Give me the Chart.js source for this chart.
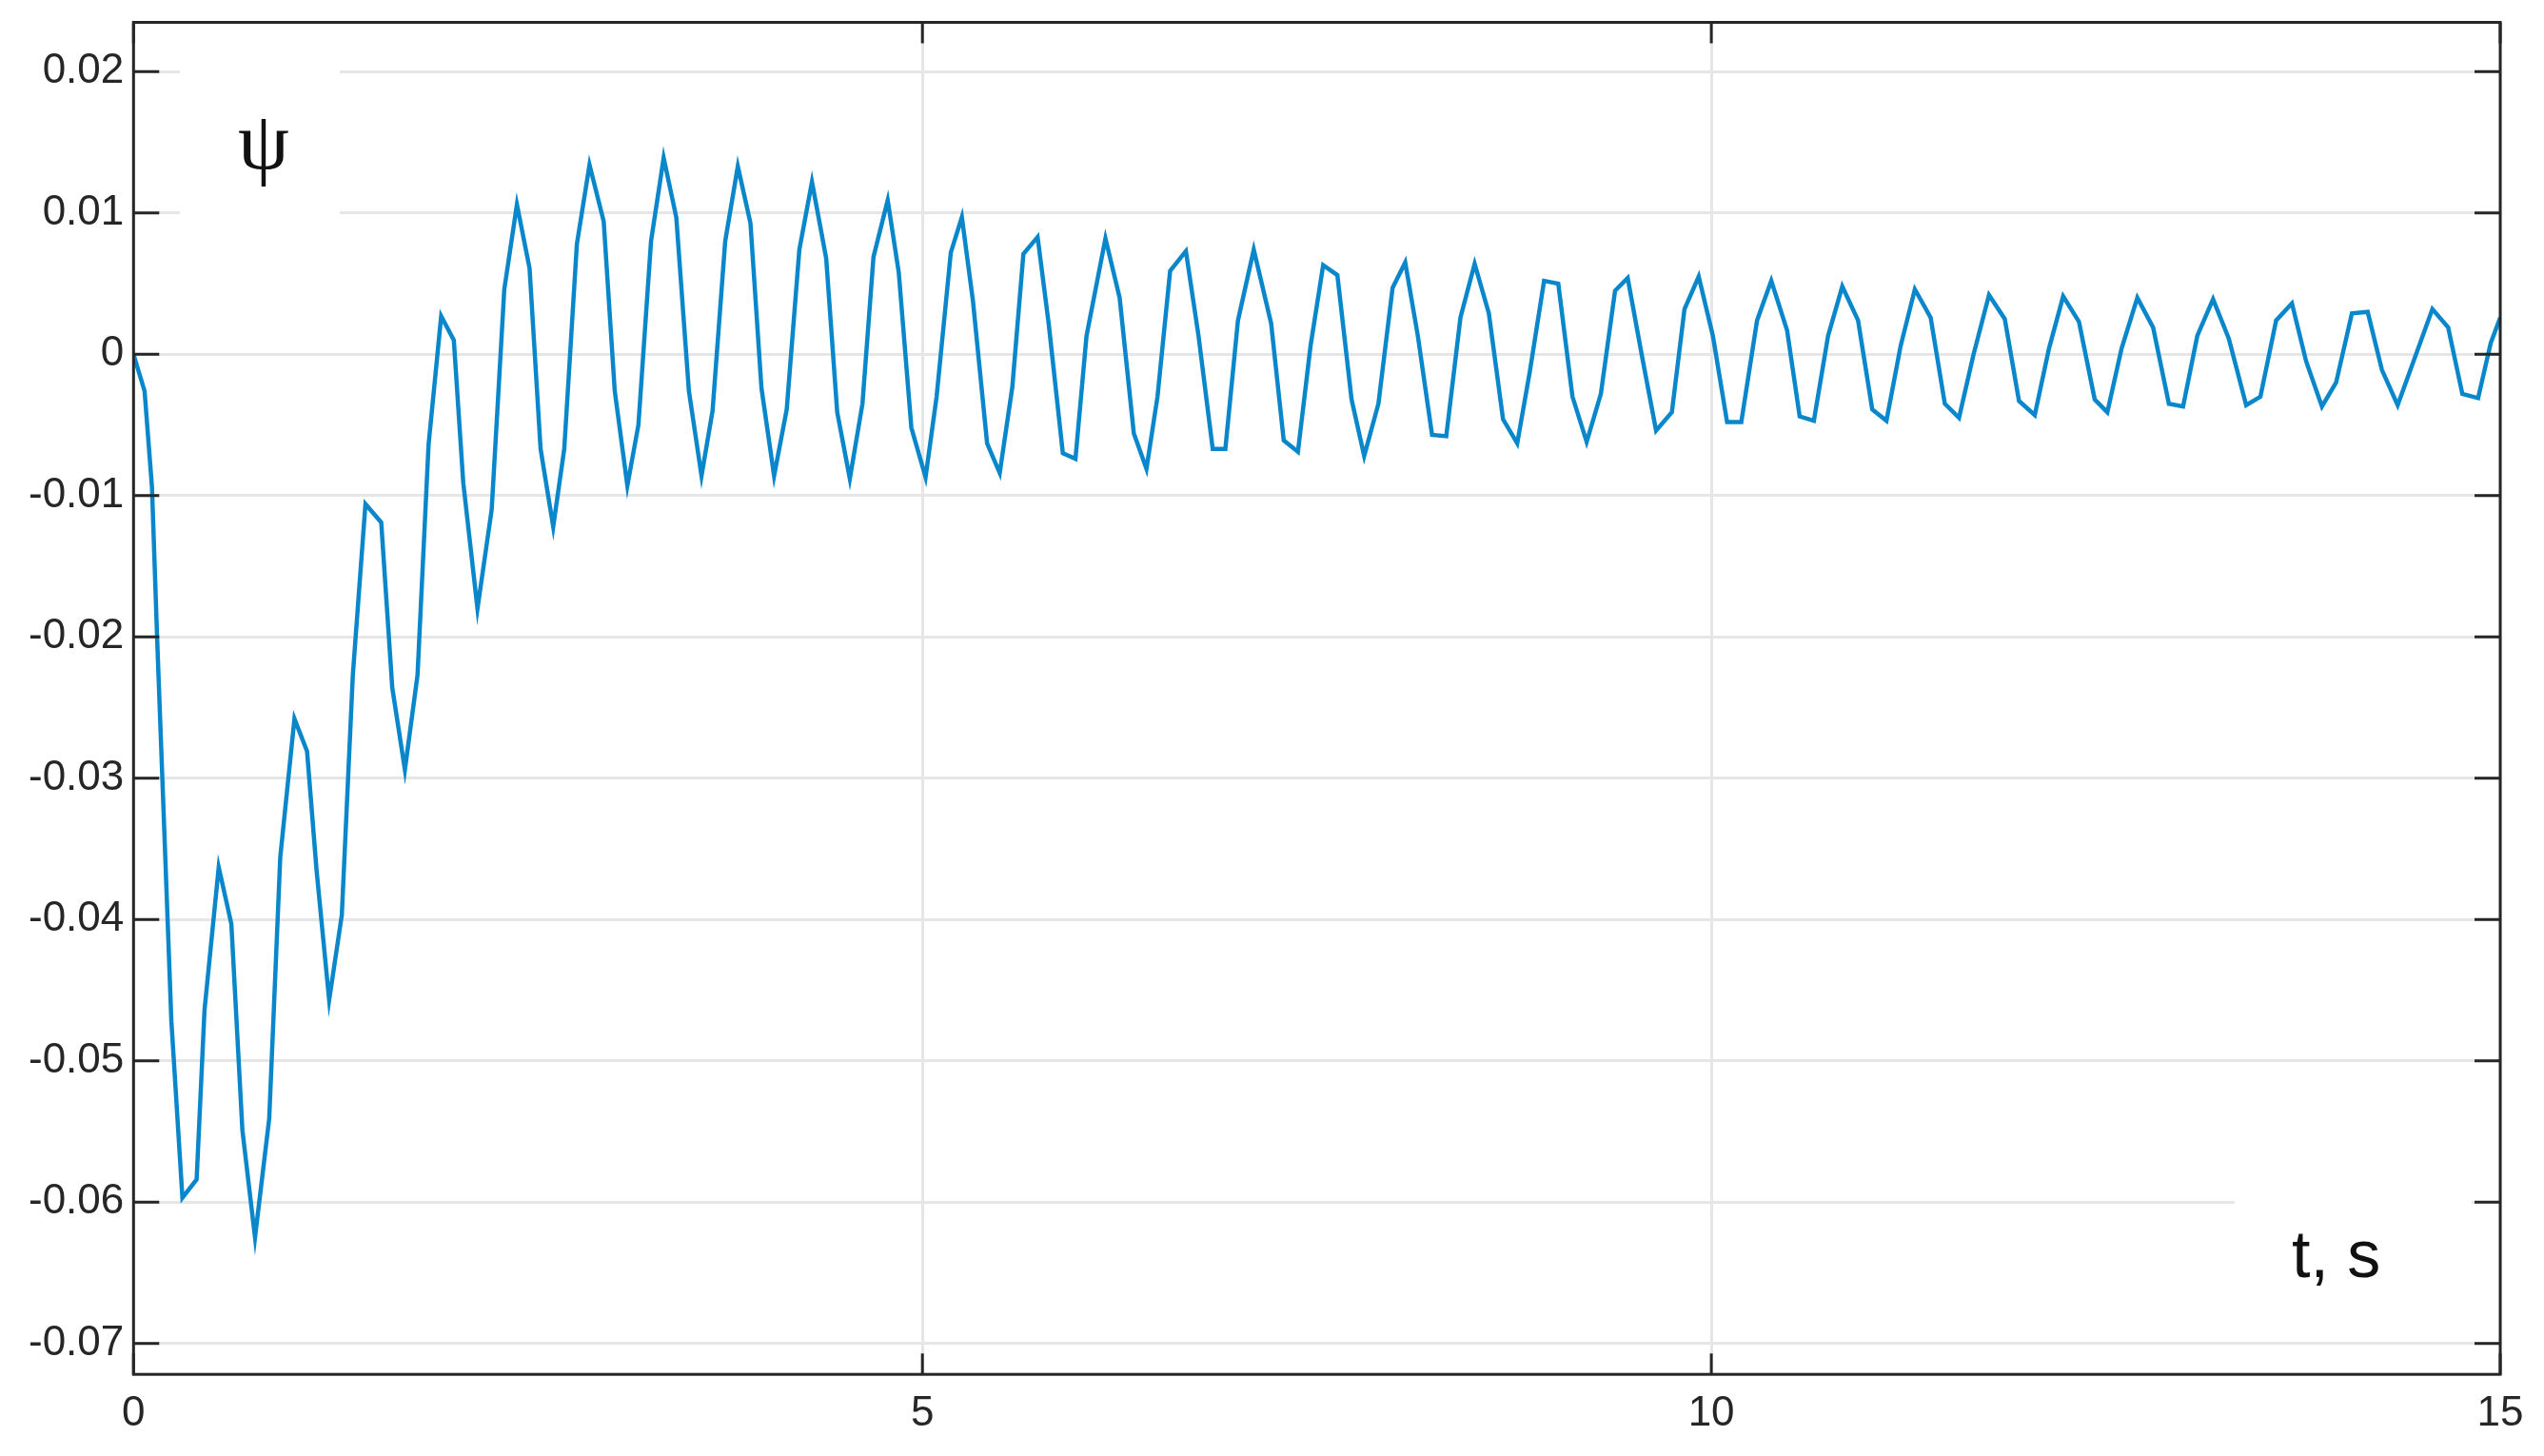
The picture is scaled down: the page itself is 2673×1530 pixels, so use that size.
<!DOCTYPE html>
<html>
<head>
<meta charset="utf-8">
<title>psi(t)</title>
<script src="https://cdn.jsdelivr.net/npm/chart.js@4.4.1/dist/chart.umd.min.js"></script>
<style>
  html, body { margin: 0; padding: 0; background: #ffffff; }
  canvas { display: block; }
</style>
</head>
<body>
<canvas id="Psi_Chart" width="2673" height="1530"></canvas>
<script>
// time, s
const tValues = [
  0.00, 0.07, 0.117, 0.15, 0.19, 0.24, 0.31, 0.40, 0.45, 0.54,
  0.62, 0.69, 0.77, 0.86, 0.93, 1.02, 1.10, 1.16, 1.24, 1.32,
  1.39, 1.47, 1.57, 1.64, 1.72, 1.80, 1.87, 1.95, 2.03, 2.09,
  2.18, 2.27, 2.35, 2.43, 2.51, 2.58, 2.66, 2.73, 2.81, 2.89,
  2.98, 3.05, 3.13, 3.20, 3.28, 3.36, 3.44, 3.52, 3.60, 3.67,
  3.75, 3.83, 3.91, 3.98, 4.06, 4.14, 4.22, 4.30, 4.39, 4.46,
  4.54, 4.62, 4.69, 4.78, 4.85, 4.93, 5.02, 5.09, 5.18, 5.25,
  5.32, 5.41, 5.49, 5.57, 5.64, 5.73, 5.80, 5.89, 5.97, 6.04,
  6.16, 6.25, 6.34, 6.42, 6.49, 6.57, 6.67, 6.75, 6.84, 6.92,
  7.00, 7.10, 7.21, 7.29, 7.38, 7.46, 7.54, 7.63, 7.72, 7.80,
  7.89, 7.98, 8.06, 8.14, 8.23, 8.32, 8.41, 8.50, 8.59, 8.68,
  8.77, 8.85, 8.94, 9.03, 9.12, 9.21, 9.30, 9.39, 9.47, 9.56,
  9.65, 9.75, 9.83, 9.92, 10.01, 10.10, 10.19, 10.29, 10.38, 10.48,
  10.56, 10.65, 10.74, 10.83, 10.93, 11.02, 11.11, 11.20, 11.29, 11.39,
  11.48, 11.57, 11.66, 11.76, 11.86, 11.95, 12.05, 12.14, 12.23, 12.33,
  12.43, 12.51, 12.60, 12.70, 12.80, 12.90, 12.99, 13.08, 13.18, 13.28,
  13.39, 13.48, 13.58, 13.68, 13.77, 13.87, 13.96, 14.06, 14.16, 14.25,
  14.35, 14.46, 14.57, 14.67, 14.76, 14.86, 14.94, 15.00
];

// psi values
const psiValues = [
  0.0000, -0.0026, -0.0094, -0.0202, -0.0322, -0.0472, -0.0597, -0.0584, -0.0464, -0.0363,
  -0.0403, -0.0549, -0.0625, -0.0541, -0.0356, -0.0258, -0.0281, -0.0365, -0.0457, -0.0397,
  -0.0227, -0.0106, -0.0119, -0.0236, -0.0294, -0.0227, -0.0064, 0.0027, 0.0010, -0.0091,
  -0.0180, -0.0110, 0.0046, 0.0106, 0.0061, -0.0067, -0.0122, -0.0067, 0.0078, 0.0134,
  0.0094, -0.0026, -0.0093, -0.0050, 0.0080, 0.0139, 0.0097, -0.0026, -0.0086, -0.0040,
  0.0080, 0.0133, 0.0093, -0.0024, -0.0086, -0.0039, 0.0074, 0.0122, 0.0068, -0.0041,
  -0.0088, -0.0035, 0.0069, 0.0109, 0.0058, -0.0052, -0.0087, -0.0030, 0.0072, 0.0097,
  0.0038, -0.0063, -0.0084, -0.0023, 0.0071, 0.0083, 0.0022, -0.0070, -0.0074, 0.0013,
  0.0082, 0.0040, -0.0056, -0.0081, -0.0030, 0.0059, 0.0073, 0.0013, -0.0067, -0.0067,
  0.0024, 0.0074, 0.0022, -0.0061, -0.0069, 0.0006, 0.0063, 0.0056, -0.0032, -0.0072,
  -0.0035, 0.0047, 0.0065, 0.0013, -0.0057, -0.0058, 0.0026, 0.0064, 0.0029, -0.0046,
  -0.0063, -0.0012, 0.0052, 0.0050, -0.0030, -0.0062, -0.0028, 0.0045, 0.0054, -0.0001,
  -0.0054, -0.0041, 0.0032, 0.0055, 0.0013, -0.0048, -0.0048, 0.0024, 0.0052, 0.0017,
  -0.0044, -0.0047, 0.0013, 0.0048, 0.0024, -0.0039, -0.0047, 0.0006, 0.0046, 0.0026,
  -0.0035, -0.0045, -0.0001, 0.0042, 0.0025, -0.0033, -0.0043, 0.0004, 0.0041, 0.0023,
  -0.0032, -0.0041, 0.0004, 0.0040, 0.0019, -0.0035, -0.0037, 0.0013, 0.0039, 0.0011,
  -0.0036, -0.0030, 0.0024, 0.0036, -0.0005, -0.0037, -0.0020, 0.0029, 0.0030, -0.0011,
  -0.0036, -0.0002, 0.0032, 0.0019, -0.0028, -0.0031, 0.0008, 0.0026
];

// tick labels
const xTicks = [0, 5, 10, 15];
const yTicks = [0.02, 0.01, 0, -0.01, -0.02, -0.03, -0.04, -0.05, -0.06, -0.07];

const lineColor = '#0a87ca';
const axisColor = '#262626';
const gridColor = '#e6e6e6';
const sansFont = '"Liberation Sans", Arial, Helvetica, sans-serif';
const serifFont = '"Liberation Serif", "Times New Roman", serif';

// white boxes with the axis names inside the plot (like in the matlab figure)
const labelPlugin = {
    id: 'innerLabels',
    beforeDatasetsDraw(chart) {
        const ctx = chart.ctx;
        ctx.save();
        ctx.fillStyle = '#ffffff';
        ctx.fillRect(189, 60, 168, 180);
        ctx.fillRect(2348, 1250, 249, 140);

        ctx.fillStyle = '#111111';
        ctx.textAlign = 'center';
        ctx.textBaseline = 'alphabetic';
        ctx.font = '86px ' + serifFont;
        ctx.fillText('ψ', 277, 177);

        ctx.textAlign = 'left';
        ctx.font = '70px ' + sansFont;
        ctx.fillText('t, s', 2408, 1342);
        ctx.restore();
    }
};

// box and inward tick marks
const boxPlugin = {
    id: 'boxTicks',
    afterDraw(chart) {
        const ctx = chart.ctx;
        const a = chart.chartArea;
        const xs = chart.scales.x;
        const ys = chart.scales.y;
        ctx.save();
        ctx.strokeStyle = axisColor;
        ctx.lineWidth = 3;
        ctx.beginPath();
        yTicks.forEach(v => {
            const py = ys.getPixelForValue(v);
            ctx.moveTo(a.left, py);
            ctx.lineTo(a.left + 27, py);
            ctx.moveTo(a.right, py);
            ctx.lineTo(a.right - 27, py);
        });
        xTicks.forEach(v => {
            const px = xs.getPixelForValue(v);
            ctx.moveTo(px, a.bottom);
            ctx.lineTo(px, a.bottom - 22);
            ctx.moveTo(px, a.top);
            ctx.lineTo(px, a.top + 22);
        });
        ctx.stroke();
        ctx.strokeRect(a.left, a.top, a.right - a.left, a.bottom - a.top);
        ctx.restore();
    }
};

const points = tValues.map((t, i) => ({ x: t, y: psiValues[i] }));

const ctx = document.getElementById('Psi_Chart').getContext('2d');
const PsiChartInstance = new Chart(ctx, {
    type: 'scatter',
    data: {
        datasets: [{
            data: points,
            showLine: true,
            borderColor: lineColor,
            borderWidth: 4.5,
            pointRadius: 0,
            fill: false,
            tension: 0
        }]
    },
    options: {
        responsive: false,
        animation: false,
        devicePixelRatio: 1,
        layout: {
            padding: { left: 20, right: 46, top: 23.5, bottom: 3 }
        },
        plugins: {
            legend: { display: false },
            tooltip: { enabled: false }
        },
        scales: {
            x: {
                type: 'linear',
                min: 0,
                max: 15,
                afterBuildTicks: axis => { axis.ticks = xTicks.map(v => ({ value: v })); },
                grid: { color: gridColor, lineWidth: 3, drawTicks: false },
                border: { display: false },
                ticks: {
                    color: axisColor,
                    padding: 15,
                    maxRotation: 0,
                    font: { family: sansFont, size: 44 }
                }
            },
            y: {
                type: 'linear',
                min: -0.07219,
                max: 0.02349,
                afterBuildTicks: axis => { axis.ticks = yTicks.map(v => ({ value: v })); },
                grid: { color: gridColor, lineWidth: 3, drawTicks: false },
                border: { display: false },
                ticks: {
                    color: axisColor,
                    padding: 10,
                    font: { family: sansFont, size: 44, lineHeight: 0.5 },
                    callback: v => String(parseFloat(Number(v).toFixed(2)))
                }
            }
        }
    },
    plugins: [labelPlugin, boxPlugin]
});
</script>
</body>
</html>
